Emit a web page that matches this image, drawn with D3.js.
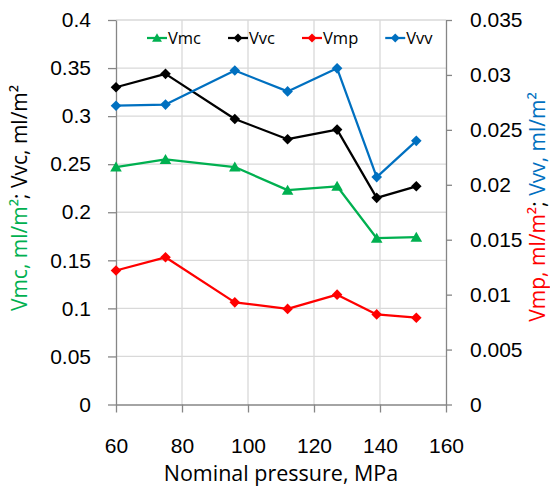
<!DOCTYPE html>
<meta charset="utf-8">

<style>
body {
  margin: 0;
  background: #fff;
}

svg {
  font-family: "Open Sans", sans-serif;
}

.axis text {
  font-size: 21px;
  fill: #000;
}

.axis path,
.axis line {
  stroke: #868686;
  stroke-width: 1.3px;
}

.grid line {
  stroke: #d9d9d9;
  stroke-width: 1.3px;
}

.line {
  fill: none;
  stroke-width: 2.25px;
  stroke-linejoin: round;
}

.legend text {
  font-size: 16.5px;
}
</style>

<svg width="550" height="486"></svg>
<script src="https://d3js.org/d3.v7.min.js"></script>

<script>
// nominal pressure, MPa
var pressure = [60, 75, 96, 112, 127, 139, 151];

// left axis series
var vmc = [0.247, 0.255, 0.247, 0.223, 0.227, 0.173, 0.174];
var vvc = [0.330, 0.344, 0.297, 0.276, 0.286, 0.215, 0.227];

// right axis series
var vmp = [0.0122, 0.0134, 0.0093, 0.0087, 0.0100, 0.0082, 0.0079];
var vvv = [0.0272, 0.0273, 0.0304, 0.0285, 0.0306, 0.0207, 0.0240];

var xTicks = [60, 80, 100, 120, 140, 160];
var leftTicks = [0, 0.05, 0.1, 0.15, 0.2, 0.25, 0.3, 0.35, 0.4];
var rightTicks = [0, 0.005, 0.01, 0.015, 0.02, 0.025, 0.03, 0.035];

var series = [
  {id: "Vmc", values: vmc, color: "#00b050", marker: "triangle", axis: "left"},
  {id: "Vvc", values: vvc, color: "#000000", marker: "diamond", axis: "left"},
  {id: "Vmp", values: vmp, color: "#ff0000", marker: "diamond", axis: "right"},
  {id: "Vvv", values: vvv, color: "#0070c0", marker: "diamond", axis: "right"}
];

var svg = d3.select("svg"),
    plot = {left: 116, right: 446, top: 20, bottom: 404.5};

var x = d3.scaleLinear().domain([60, 160]).range([plot.left, plot.right]),
    yL = d3.scaleLinear().domain([0, 0.4]).range([plot.bottom, plot.top]),
    yR = d3.scaleLinear().domain([0, 0.035]).range([plot.bottom, plot.top]);

var fmt = function(d) { return String(+d.toFixed(3)); };

var markers = {
  triangle: function(s) { return "M0," + (-5.5*s) + "L" + (5.8*s) + "," + (4.5*s) + "L" + (-5.8*s) + "," + (4.5*s) + "Z"; },
  diamond: function(s) { return "M0," + (-5.3*s) + "L" + (5.3*s) + ",0L0," + (5.3*s) + "L" + (-5.3*s) + ",0Z"; }
};

// gridlines
var grid = svg.append("g").attr("class", "grid");
grid.selectAll(".h")
    .data(leftTicks.slice(1))
  .enter().append("line")
    .attr("x1", plot.left).attr("x2", plot.right)
    .attr("y1", function(d) { return yL(d); })
    .attr("y2", function(d) { return yL(d); });
grid.selectAll(".v")
    .data(xTicks.slice(1, -1))
  .enter().append("line")
    .attr("y1", plot.top).attr("y2", plot.bottom)
    .attr("x1", function(d) { return x(d); })
    .attr("x2", function(d) { return x(d); });

// axes
svg.append("g")
    .attr("class", "axis")
    .attr("transform", "translate(" + plot.left + ",0)")
    .call(d3.axisLeft(yL).tickValues(leftTicks).tickFormat(fmt).tickSize(8).tickSizeOuter(0).tickPadding(17));

svg.append("g")
    .attr("class", "axis")
    .attr("transform", "translate(" + plot.right + ",0)")
    .call(d3.axisRight(yR).tickValues(rightTicks).tickFormat(fmt).tickSize(6).tickSizeOuter(0).tickPadding(18));

svg.append("g")
    .attr("class", "axis")
    .attr("transform", "translate(0," + plot.bottom + ")")
    .call(d3.axisBottom(x).tickValues(xTicks).tickFormat(d3.format("d")).tickSize(8).tickSizeOuter(0).tickPadding(26));

// axis titles
svg.append("text")
    .attr("x", (plot.left + plot.right) / 2)
    .attr("y", 481)
    .attr("text-anchor", "middle")
    .style("font-size", "21.5px")
    .text("Nominal pressure, MPa");

var lt = svg.append("text")
    .attr("transform", "translate(27,198) rotate(-90)")
    .attr("text-anchor", "middle")
    .style("font-size", "21px");
lt.append("tspan").attr("fill", "#00b050").text("Vmc, ml/m²");
lt.append("tspan").attr("fill", "#000").text("; Vvc, ml/m²");

var rt = svg.append("text")
    .attr("transform", "translate(545,207) rotate(-90)")
    .attr("text-anchor", "middle")
    .style("font-size", "21px");
rt.append("tspan").attr("fill", "#ff0000").text("Vmp, ml/m²");
rt.append("tspan").attr("fill", "#000").text("; ");
rt.append("tspan").attr("fill", "#0070c0").text("Vvv, ml/m²");

// lines and markers
var line = function(yScale) {
  return d3.line()
    .x(function(d, i) { return x(pressure[i]); })
    .y(function(d) { return yScale(d); });
};

var s = svg.selectAll(".series")
    .data(series)
  .enter().append("g")
    .attr("class", "series");

s.append("path")
    .attr("class", "line")
    .attr("stroke", function(d) { return d.color; })
    .attr("d", function(d) { return line(d.axis == "left" ? yL : yR)(d.values); });

s.each(function(d) {
  var yScale = d.axis == "left" ? yL : yR;
  d3.select(this).selectAll(".pt")
      .data(d.values)
    .enter().append("path")
      .attr("class", "pt")
      .attr("fill", d.color)
      .attr("transform", function(v, i) { return "translate(" + x(pressure[i]) + "," + yScale(v) + ")"; })
      .attr("d", markers[d.marker](1));
});

// legend
var legend = svg.append("g").attr("class", "legend");
var lx = 147, ly = 38;
series.forEach(function(d) {
  var g = legend.append("g").attr("transform", "translate(" + lx + "," + ly + ")");
  g.append("line")
      .attr("x1", 0).attr("x2", 20)
      .attr("stroke", d.color)
      .attr("stroke-width", 2.25);
  g.append("path")
      .attr("transform", "translate(10,0)")
      .attr("fill", d.color)
      .attr("d", markers[d.marker](0.85));
  var t = g.append("text")
      .attr("x", 21)
      .attr("y", 6)
      .text(d.id);
  lx += 21 + t.node().getComputedTextLength() + 27;
});
</script>
